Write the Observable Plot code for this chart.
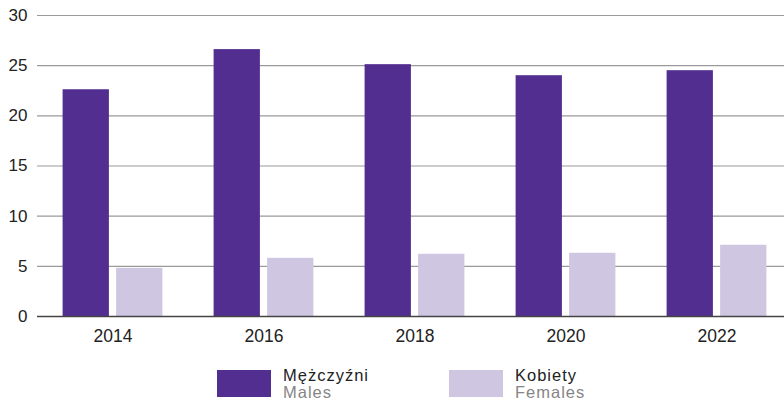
<!DOCTYPE html>
<html><head><meta charset="utf-8">
<script src="https://cdn.jsdelivr.net/npm/d3@7"></script>
<script src="https://cdn.jsdelivr.net/npm/@observablehq/plot@0.6"></script>
<style>
body{margin:0;background:#fff;font-family:"Liberation Sans",Arial,sans-serif;}
#wrap{position:relative;width:784px;height:403px;}
.leg{position:absolute;display:flex;align-items:flex-start;}
.sw{width:54px;height:27px;margin-right:12px;}
.lt{font-size:16.5px;line-height:17px;color:#222;letter-spacing:1px;}
.lt span{color:#858585;display:block;}
</style></head><body>
<div id="wrap"><div id="chart"></div>
<div class="leg" style="left:217px;top:370px"><div class="sw" style="background:#512e8f"></div><div class="lt" style="margin-top:-3px">Mężczyźni<span>Males</span></div></div>
<div class="leg" style="left:449px;top:370px"><div class="sw" style="background:#cfc7e2"></div><div class="lt" style="margin-top:-3px">Kobiety<span>Females</span></div></div>
</div>
<script>
const years = ["2014","2016","2018","2020","2022"];
const males = [22.6, 26.6, 25.1, 24.0, 24.5];
const females = [4.8, 5.8, 6.2, 6.3, 7.1];
const yTicks = [0,5,10,15,20,25,30];

const maleData = years.map((y,i)=>({year:y, v:males[i]}));
const femaleData = years.map((y,i)=>({year:y, v:females[i]}));

const chart = Plot.plot({
  width: 784, height: 355,
  marginLeft: 37, marginRight: 0, marginTop: 15, marginBottom: 39,
  style: {fontFamily: '"Liberation Sans", Arial, sans-serif', fontSize: "17px", color: "#222"},
  x: {domain: years, range: [36.4, 792.6], padding: 0, label: null},
  y: {domain: [0,30], ticks: yTicks, label: null},
  marks: [
    Plot.ruleY(yTicks.filter(d=>d>0), {stroke: "#9a9a9a", strokeWidth: 1.2}),
    Plot.axisY({ticks: yTicks, tickSize: 0, tickPadding: 10, label: null, fontSize: 17}),
    Plot.axisX({anchor: "bottom", tickSize: 0, tickPadding: 13, label: null, fontSize: 17.5}),
    Plot.barY(maleData, {x: "year", y: "v", fill: "#512e8f", insetLeft: 25.6, insetRight: 79.1}),
    Plot.barY(femaleData, {x: "year", y: "v", fill: "#cfc7e2", insetLeft: 79.1, insetRight: 25.6}),
    Plot.ruleY([0], {stroke: "#444", strokeWidth: 1.5})
  ]
});
document.getElementById("chart").appendChild(chart);
</script>
</body></html>
